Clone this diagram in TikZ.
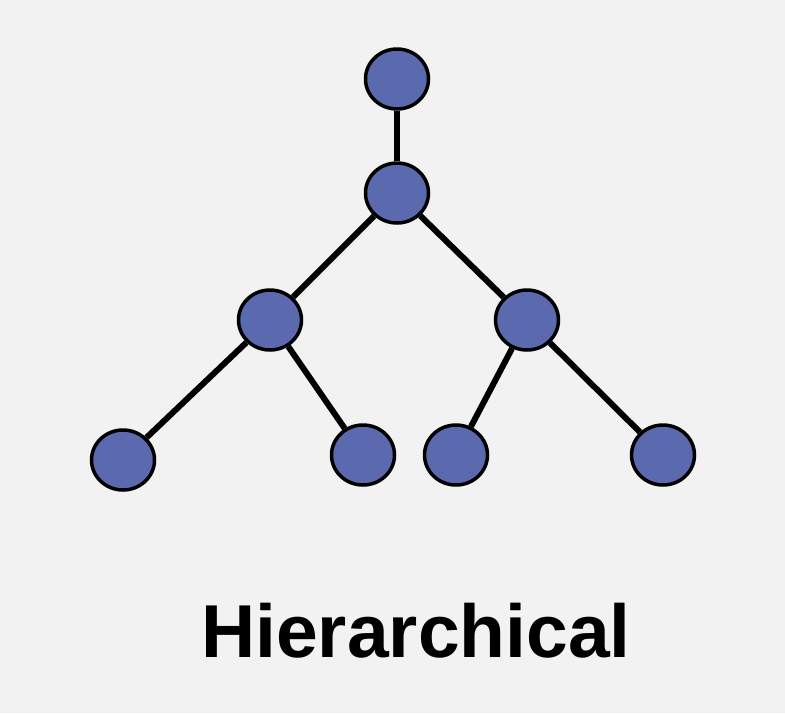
\documentclass[tikz,border=0pt]{standalone}
\usepackage{fontspec}
\setmainfont{Liberation Sans}
\usetikzlibrary{shapes.geometric}
\definecolor{bg}{HTML}{F2F2F2}
\definecolor{nodeblue}{HTML}{5B69AE}
\begin{document}
\begin{tikzpicture}[x=1pt,y=-1pt,
  vert/.style={ellipse,draw=black,line width=3.5pt,fill=nodeblue,minimum width=63pt,minimum height=60pt,inner sep=0pt},
  edge/.style={line width=6pt,draw=black}]
\fill[bg] (0,0) rectangle (785,713);
\useasboundingbox (0,0) rectangle (785,713);
\node[vert] (a) at (397,79) {};
\node[vert] (b) at (397,193) {};
\node[vert] (c) at (270,320) {};
\node[vert] (d) at (527,320) {};
\node[vert] (e) at (123,460) {};
\node[vert] (f) at (363,455) {};
\node[vert] (g) at (456,455) {};
\node[vert] (h) at (663,455) {};
\begin{scope}[on background layer/.style={}]
\end{scope}
\draw[edge] (a) -- (b);
\draw[edge] (b) -- (c);
\draw[edge] (b) -- (d);
\draw[edge] (c) -- (e);
\draw[edge] (c) -- (f);
\draw[edge] (d) -- (g);
\draw[edge] (d) -- (h);
\node[anchor=base,inner sep=0pt,font=\fontsize{75}{80}\selectfont\bfseries] (lbl) at (416,657) {Hierarchical};
\end{tikzpicture}
\end{document}
